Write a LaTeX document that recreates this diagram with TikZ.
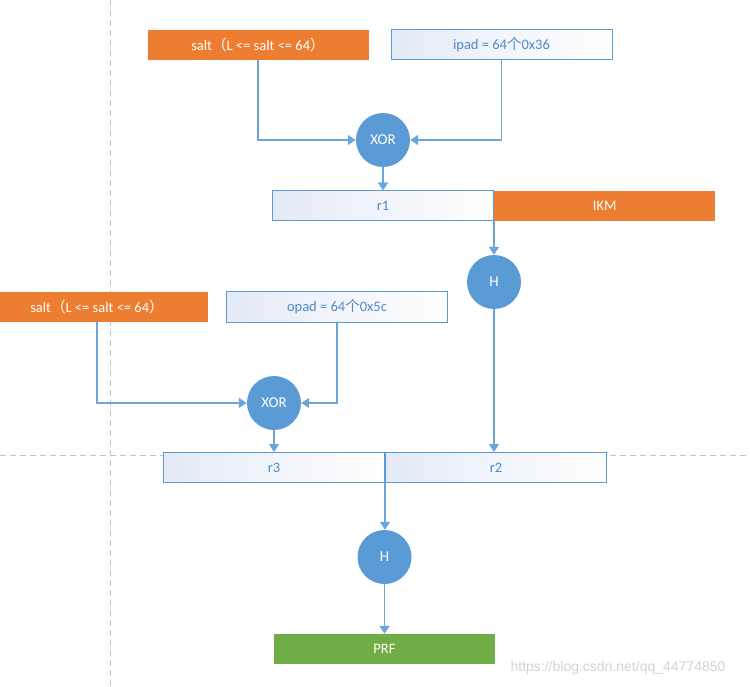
\documentclass[tikz,border=0pt]{standalone}
\usepackage{fontspec}
\setmainfont{Carlito}
\newfontfamily\cjk{Noto Sans CJK SC}
\newfontfamily\markfont{Liberation Sans}
\usepackage{tikz}
\usetikzlibrary{arrows.meta,positioning}
\definecolor{offblue}{HTML}{5B9BD5}
\definecolor{padtext}{HTML}{4F8BC9}
\definecolor{saltorange}{HTML}{ED7D31}
\definecolor{prfgreen}{HTML}{70AD47}
\definecolor{padtint}{HTML}{E4EAF6}
\definecolor{guidegray}{HTML}{C4C4C4}

\begin{document}
\begin{tikzpicture}[x=1pt,y=-1pt,
  padbox/.style={draw=offblue,line width=1pt,left color=padtint,right color=white,
                 minimum width=221pt,minimum height=30pt,inner sep=0pt,
                 font=\fontsize{14.5}{16}\selectfont,text=padtext},
  keybox/.style={fill=saltorange,minimum width=221pt,minimum height=30pt,inner sep=0pt,
                 font=\fontsize{14.5}{16}\selectfont,text=white},
  outbox/.style={keybox,fill=prfgreen},
  op/.style={circle,fill=offblue,minimum size=54pt,inner sep=0pt,
             font=\fontsize{15}{17}\selectfont,text=white},
  arr/.style={-{Triangle[length=8pt,width=10pt]},line width=1.5pt,color=offblue!90},
  guide/.style={dash pattern=on 6pt off 4pt,line width=0.7pt,color=guidegray},
]
  \useasboundingbox (0,0) rectangle (750,687);
  \draw[guide] (110,0) -- (110,687);
  \draw[guide] (0,455) -- (750,455);

  % inner round
  \node[keybox] (saltA) at (258,45) {salt{\cjk（}L <= salt <= 64{\cjk）}};
  \node[padbox] (ipad) at (501.5,45) {ipad = 64{\cjk 个}0x36};
  \node[op] (xorA) at (383,140) {XOR};
  \node[padbox] (rone) at (383,206) {r1};
  \node[keybox,right=0pt of rone] (ikm) {IKM};
  \node[op] (hA) at (494,282) {H};

  % outer round
  \node[keybox] (saltB) at (97,307) {salt{\cjk（}L <= salt <= 64{\cjk）}};
  \node[padbox] (opad) at (337,307) {opad = 64{\cjk 个}0x5c};
  \node[op] (xorB) at (274,403) {XOR};
  \node[padbox] (rthree) at (274,467.5) {r3};
  \node[padbox,right=0pt of rthree] (rtwo) {r2};
  \node[op] (hB) at (384.5,557) {H};
  \node[outbox] (prf) at (384.5,649) {PRF};

  \node[font=\markfont\fontsize{14}{16}\selectfont,text=gray!35] (wmark) at (618,668)
    {https://blog.csdn.net/qq\_44774850};

  \draw[arr] (saltA) |- (xorA);
  \draw[arr] (ipad) |- (xorA);
  \draw[arr] (xorA) -- (rone);
  \draw[arr] (rone.south east) -- (rone.south east |- hA.north);
  \draw[arr] (saltB) |- (xorB);
  \draw[arr] (opad) |- (xorB);
  \draw[arr] (xorB) -- (rthree);
  \draw[arr] (hA) -- (hA |- rtwo.north);
  \draw[arr] (rthree.south east) -- (rthree.south east |- hB.north);
  \draw[arr] (hB) -- (prf);
\end{tikzpicture}
\end{document}
